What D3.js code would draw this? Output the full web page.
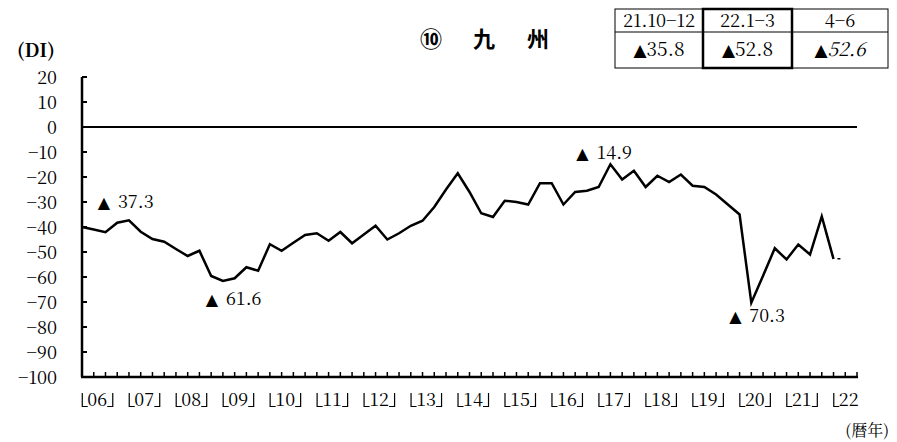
<!DOCTYPE html>
<html>
<head>
<meta charset="utf-8">
<script src="https://cdn.jsdelivr.net/npm/d3@7"></script>
<style>
  body { margin: 0; background: #fff; }
</style>
</head>
<body>
<div id="chart"></div>
<script>
// quarterly DI, 2006 Q1 .. 2022 Q1 (actual)
var di = [
  -40, -41, -42.1, -38.3, -37.3, -41.9, -44.8, -45.9,
  -48.8, -51.6, -49.5, -59.6, -61.6, -60.5, -56.1, -57.5,
  -46.9, -49.5, -46.3, -43.2, -42.5, -45.5, -42, -46.5,
  -43, -39.5, -45, -42.5, -39.5, -37.5, -32, -25,
  -18.5, -26, -34.5, -36, -29.5, -30, -31, -22.5,
  -22.5, -31, -26, -25.5, -24, -14.9, -21, -17.5,
  -24, -19.5, -22, -19, -23.5, -24, -27, -31,
  -35, -70.3, -59.5, -48.5, -53, -47, -51, -35.8,
  -52.8
];
// forecast line: 21 Q4, 22 Q1, 22 Q2
var forecastIdx = [63, 64, 65];
var forecast = [-35.8, -52.8, -52.6];

var years = ["06","07","08","09","10","11","12","13","14","15","16","17","18","19","20","21","22"];
var yTicks = [20, 10, 0, -10, -20, -30, -40, -50, -60, -70, -80, -90, -100];

var peakIdx = [4, 12, 45, 57];
var peakLabels = ["37.3", "61.6", "14.9", "70.3"];

var tablePeriods = ["21.10-12", "22.1-3", "4-6"];
var tableValues = ["35.8", "52.8", "52.6"];

var MINCHO = "Noto Serif CJK JP";
var GOTHIC = "Noto Sans CJK JP";

var width = 897, height = 442;
var svg = d3.select("#chart").append("svg")
    .attr("width", width)
    .attr("height", height);

var x = d3.scaleLinear().domain([0, 66]).range([82, 857]);
var y = d3.scaleLinear().domain([-100, 20]).range([377, 77]);

// y axis
svg.append("line")
    .attr("x1", x(0)).attr("x2", x(0))
    .attr("y1", y(20)).attr("y2", y(-100))
    .attr("stroke", "#000").attr("stroke-width", 2.5);

svg.selectAll(".ytick").data(yTicks).enter()
    .append("line")
    .attr("class", "ytick")
    .attr("x1", x(0)).attr("x2", x(0) + 5)
    .attr("y1", function(d) { return y(d); })
    .attr("y2", function(d) { return y(d); })
    .attr("stroke", "#000").attr("stroke-width", 2);

svg.selectAll(".ylab").data(yTicks).enter()
    .append("text")
    .attr("class", "ylab")
    .attr("x", 57)
    .attr("y", function(d) { return y(d) + 6.5; })
    .attr("text-anchor", "end")
    .style("font-family", MINCHO)
    .style("font-size", "18px")
    .text(function(d) { return d < 0 ? "\u2212" + (-d) : d; });

// x axis + quarter ticks
svg.append("line")
    .attr("x1", x(0) - 1).attr("x2", x(66) + 1)
    .attr("y1", y(-100)).attr("y2", y(-100))
    .attr("stroke", "#000").attr("stroke-width", 2.5);

svg.selectAll(".xtick").data(d3.range(0, 67)).enter()
    .append("line")
    .attr("class", "xtick")
    .attr("x1", function(d) { return x(d); })
    .attr("x2", function(d) { return x(d); })
    .attr("y1", y(-100)).attr("y2", y(-100) - 5)
    .attr("stroke", "#000").attr("stroke-width", 1.5);

// year labels with bracket marks
var xl = svg.selectAll(".xlab").data(years).enter()
    .append("g")
    .attr("class", "xlab")
    .attr("transform", function(d, i) { return "translate(" + x(i * 4 + 1.3) + ",0)"; });
xl.append("text")
    .attr("x", 0)
    .attr("y", 406)
    .attr("text-anchor", "middle")
    .style("font-family", MINCHO)
    .style("font-size", "18px")
    .text(function(d) { return d; });
xl.append("path")
    .attr("d", "M-15,393V406.5H-9.5")
    .attr("fill", "none").attr("stroke", "#000").attr("stroke-width", 1.2);
xl.filter(function(d, i) { return i < years.length - 1; })
    .append("path")
    .attr("d", "M10,406.5H15.5V393")
    .attr("fill", "none").attr("stroke", "#000").attr("stroke-width", 1.2);

// zero line
svg.append("line")
    .attr("x1", x(0)).attr("x2", x(66))
    .attr("y1", y(0)).attr("y2", y(0))
    .attr("stroke", "#000").attr("stroke-width", 2);

// forecast (dashed)
var line = d3.line()
    .x(function(d) { return x(d[0]); })
    .y(function(d) { return y(d[1]); });

svg.append("path")
    .datum(forecastIdx.map(function(d, i) { return [d, forecast[i]]; }))
    .attr("d", line)
    .attr("fill", "none")
    .attr("stroke", "#000")
    .attr("stroke-width", 1.5)
    .attr("stroke-dasharray", "3,5");

// actual DI
svg.append("path")
    .datum(di.map(function(d, i) { return [i, d]; }))
    .attr("d", line)
    .attr("fill", "none")
    .attr("stroke", "#000")
    .attr("stroke-width", 2.5)
    .attr("stroke-linejoin", "miter");

// peak annotations
var annDx = [-25, -11, -28, -16];
var annDy = [-12, 24, -5, 19];
peakIdx.forEach(function(p, k) {
    svg.append("text")
        .attr("x", x(p) + annDx[k])
        .attr("y", y(di[p]) + annDy[k])
        .attr("text-anchor", "middle")
        .style("font-size", "16px")
        .style("font-family", "DejaVu Sans")
        .text("\u25B2");
    svg.append("text")
        .attr("x", x(p) + annDx[k] + 14)
        .attr("y", y(di[p]) + annDy[k])
        .style("font-family", MINCHO)
        .style("font-size", "18px")
        .text(peakLabels[k]);
});

// title
[["\u2469", 431], ["九", 484], ["州", 538]].forEach(function(t) {
    svg.append("text").attr("x", t[1]).attr("y", 47).attr("text-anchor", "middle")
        .style("font-family", GOTHIC).style("font-size", "22px").style("font-weight", "bold")
        .text(t[0]);
});

svg.append("text").attr("x", 17).attr("y", 57)
    .style("font-family", MINCHO)
    .style("font-size", "19px").style("font-weight", "bold")
    .text("(DI)");

svg.append("text").attr("x", 889).attr("y", 436).attr("text-anchor", "end")
    .style("font-family", MINCHO)
    .style("font-size", "16px")
    .text("(暦年)");

// table
var colX = [615, 703, 792, 888];
var rowY = [9, 32, 68];
var tbl = svg.append("g");
tbl.append("rect")
    .attr("x", colX[0]).attr("y", rowY[0])
    .attr("width", colX[3] - colX[0]).attr("height", rowY[2] - rowY[0])
    .attr("fill", "none").attr("stroke", "#000").attr("stroke-width", 1);
tbl.append("line")
    .attr("x1", colX[0]).attr("x2", colX[3])
    .attr("y1", rowY[1]).attr("y2", rowY[1])
    .attr("stroke", "#000").attr("stroke-width", 1);
tbl.append("rect")
    .attr("x", colX[1]).attr("y", rowY[0])
    .attr("width", colX[2] - colX[1]).attr("height", rowY[2] - rowY[0])
    .attr("fill", "none").attr("stroke", "#000").attr("stroke-width", 2.5);

tablePeriods.forEach(function(p, i) {
    tbl.append("text")
        .attr("x", (colX[i] + colX[i + 1]) / 2)
        .attr("y", 27)
        .attr("text-anchor", "middle")
        .style("font-family", MINCHO)
        .style("font-size", "18px")
        .text(p.replace("-", "\u2212"));
    var t = tbl.append("text")
        .attr("x", (colX[i] + colX[i + 1]) / 2)
        .attr("y", 56)
        .attr("text-anchor", "middle")
        .style("font-family", MINCHO)
        .style("font-size", "19px");
    t.append("tspan").style("font-family", "DejaVu Sans").style("font-size", "17px").text("\u25B2");
    t.append("tspan")
        .style("font-style", i == 2 ? "italic" : "normal")
        .text(tableValues[i]);
});
</script>
</body>
</html>
